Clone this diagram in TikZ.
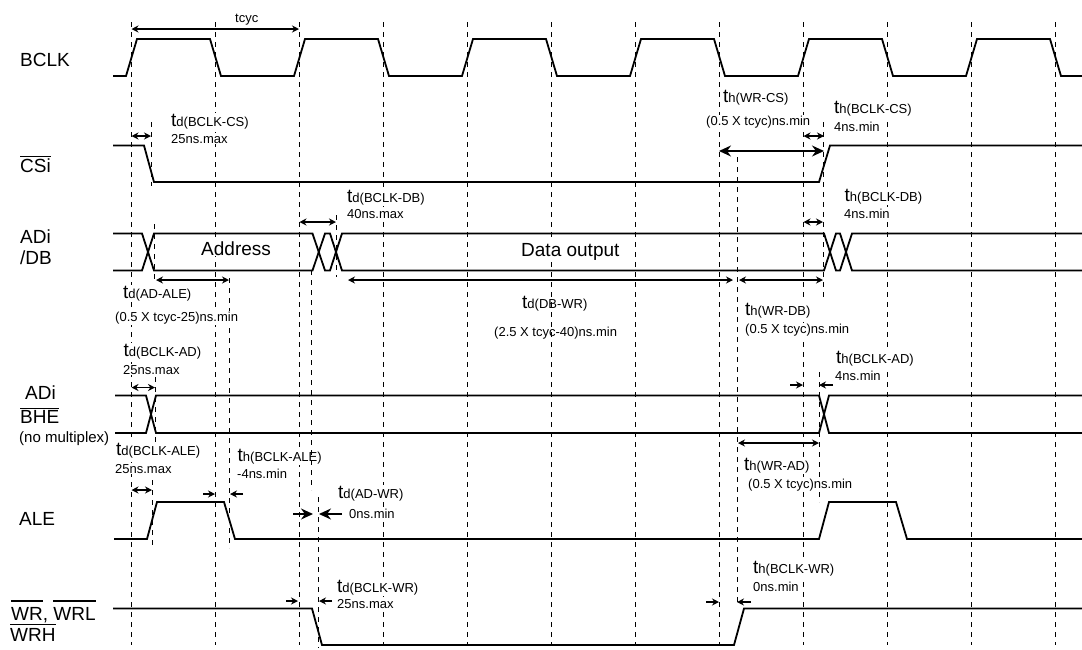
\documentclass[tikz,border=0pt]{standalone}
\usepackage{fontspec}
\setmainfont{Liberation Sans}
\usetikzlibrary{arrows.meta}
\newcommand{\tsub}[1]{{\fontsize{19}{19}\selectfont t}#1}
\newcommand{\barred}[2]{\setbox0=\hbox{#2}\rlap{\rule[#1pt]{\wd0}{1.3pt}}\box0}

\begin{document}
\begin{tikzpicture}[
    x=1pt, y=-1pt,
    guide/.style={draw=black, line width=1.2pt, dash pattern=on 5pt off 5pt},
    sig/.style={draw=black, line width=1.8pt, line join=miter},
    timing/.style={draw=black, line width=1.8pt, {Stealth[length=7pt,width=7pt]}-{Stealth[length=7pt,width=7pt]}},
    inward/.style={draw=black, line width=1.8pt, -{Stealth[length=7pt,width=7pt]}},
    bigtiming/.style={draw=black, line width=1.4pt, {Stealth[length=12pt,width=11pt]}-{Stealth[length=12pt,width=11pt]}},
    biginward/.style={draw=black, line width=1.4pt, -{Stealth[length=12pt,width=11pt]}},
    signame/.style={anchor=base west, inner sep=0pt, font=\fontsize{19}{21}\selectfont},
    word/.style={anchor=base west, inner sep=1pt, fill=white, font=\fontsize{19}{21}\selectfont},
    lbl/.style={anchor=base west, inner sep=1pt, fill=white, font=\fontsize{13}{15}\selectfont},
    plainlbl/.style={anchor=base west, inner sep=0pt, font=\fontsize{13}{15}\selectfont},
]
\useasboundingbox (0,0) rectangle (1082,649);

% === CLOCK GUIDES ===
\draw[guide] (131.5,22) -- (131.5,645);
\draw[guide] (215.5,22) -- (215.5,645);
\draw[guide] (299.5,22) -- (299.5,645);
\draw[guide] (383.5,22) -- (383.5,645);
\draw[guide] (467.5,22) -- (467.5,645);
\draw[guide] (551.5,22) -- (551.5,645);
\draw[guide] (635.5,22) -- (635.5,645);
\draw[guide] (719.5,22) -- (719.5,645);
\draw[guide] (803.5,22) -- (803.5,645);
\draw[guide] (887.5,22) -- (887.5,645);
\draw[guide] (971.5,22) -- (971.5,645);
\draw[guide] (1055.5,22) -- (1055.5,645);

% === SHORT GUIDES ===
\draw[guide] (151.5,122) -- (151.5,186);
\draw[guide] (154.5,224) -- (154.5,283);
\draw[guide] (155.5,377) -- (155.5,442);
\draw[guide] (152.5,480) -- (152.5,545);
\draw[guide] (229.5,278) -- (229.5,548);
\draw[guide] (336.5,215) -- (336.5,277);
\draw[guide] (318.5,497) -- (318.5,648);
\draw[guide] (737.5,157) -- (737.5,605);
\draw[guide] (823.5,122) -- (823.5,297);
\draw[guide] (819.5,372) -- (819.5,502);

% === SIGNAL NAMES ===
\node[signame] (bclk) at (20,66) {BCLK};
\node[signame] (csi) at (20,172) {\barred{15}{CSi}};
\node[signame] (adi) at (20,243) {ADi};
\node[signame] (db) at (20,264) {/DB};
\node[signame] (adi2) at (25,399) {ADi};
\node[signame] (bhe) at (20,423) {\barred{14}{BHE}};
\node[plainlbl, font=\fontsize{15}{17}\selectfont] (nomux) at (19,442) {(no multiplex)};
\node[signame] (ale) at (19,525) {ALE};
\node[signame] (wr) at (11,620) {\barred{18.5}{WR}, \barred{18.5}{WRL}};
\node[signame] (wrh) at (10,641) {\barred{16}{WRH}};

% === BUS CONTENTS ===
\node[word] (address) at (200,255) {Address};
\node[word] (dataout) at (520,256) {Data output};

% === LABELS ===
\node[plainlbl] (tcyc) at (235,22) {tcyc};
\node[lbl] (dcs) at (170,126) {\tsub{d(BCLK-CS)}};
\node[lbl] (dcsv) at (170,143) {25ns.max};
\node[lbl] (dale) at (122,298) {\tsub{d(AD-ALE)}};
\node[lbl] (dalev) at (114,321) {(0.5 X tcyc-25)ns.min};
\node[lbl] (dad) at (122.5,356) {\tsub{d(BCLK-AD)}};
\node[lbl] (dadv) at (122,374) {25ns.max};
\node[lbl] (dbale) at (115,455) {\tsub{d(BCLK-ALE)}};
\node[lbl] (dbalev) at (114,473) {25ns.max};
\node[lbl] (hbale) at (236.5,461) {\tsub{h(BCLK-ALE)}};
\node[lbl] (hbalev) at (236,478) {-4ns.min};
\node[lbl] (dwr) at (337,498) {\tsub{d(AD-WR)}};
\node[lbl] (dwrv) at (348,518) {0ns.min};
\node[lbl] (dbwr) at (336,592) {\tsub{d(BCLK-WR)}};
\node[lbl] (dbwrv) at (336,608) {25ns.max};
\node[lbl] (ddb) at (346,202) {\tsub{d(BCLK-DB)}};
\node[lbl] (ddbv) at (346,218) {40ns.max};
\node[plainlbl] (ddw) at (522,308) {\tsub{d(DB-WR)}};
\node[plainlbl] (ddwv) at (494,336) {(2.5 X tcyc-40)ns.min};
\node[lbl] (hcs) at (722,102) {\tsub{h(WR-CS)}};
\node[lbl] (hcsv) at (705,125) {(0.5 X tcyc)ns.min};
\node[lbl] (hbcs) at (833,113) {\tsub{h(BCLK-CS)}};
\node[lbl] (hbcsv) at (833,131) {4ns.min};
\node[lbl] (hbdb) at (843.5,201) {\tsub{h(BCLK-DB)}};
\node[lbl] (hbdbv) at (843,218) {4ns.min};
\node[lbl] (hdb) at (744,315) {\tsub{h(WR-DB)}};
\node[lbl] (hdbv) at (744,333) {(0.5 X tcyc)ns.min};
\node[lbl] (hbad) at (835,363) {\tsub{h(BCLK-AD)}};
\node[lbl] (hbadv) at (834,380) {4ns.min};
\node[lbl] (had) at (743,470) {\tsub{h(WR-AD)}};
\node[lbl] (hadv) at (747,488) {(0.5 X tcyc)ns.min};
\node[lbl] (hbwr) at (752,573) {\tsub{h(BCLK-WR)}};
\node[lbl] (hbwrv) at (752,591) {0ns.min};

\draw[guide] (311.5,270) -- (311.5,490);

% === SIGNALS ===
\draw[sig] (113,76) -- (126,76) -- (137,39) -- (210,39) -- (221,76) -- (294,76) -- (305,39) -- (378,39) -- (389,76) -- (462,76) -- (473,39) -- (546,39) -- (557,76) -- (630,76) -- (641,39) -- (714,39) -- (725,76) -- (798,76) -- (809,39) -- (882,39) -- (893,76) -- (966,76) -- (977,39) -- (1050,39) -- (1061,76) -- (1082,76);
\draw[sig] (113,145.5) -- (144,145.5) -- (154,182) -- (819,182) -- (830,145.5) -- (1082,145.5);
\draw[sig] (113,233.5) -- (142,233.5) -- (154,270.5) -- (312.5,270.5) -- (325,233.5) -- (330,233.5) -- (342,270.5) -- (824,270.5) -- (836,233.5) -- (840,233.5) -- (852,270.5) -- (1082,270.5);
\draw[sig] (113,270.5) -- (142,270.5) -- (154,233.5) -- (312.5,233.5) -- (325,270.5) -- (330,270.5) -- (342,233.5) -- (824,233.5) -- (836,270.5) -- (840,270.5) -- (852,233.5) -- (1082,233.5);
\draw[sig] (115,395.5) -- (146,395.5) -- (156,433) -- (819,433) -- (829,395.5) -- (1082,395.5);
\draw[sig] (115,433) -- (146,433) -- (156,395.5) -- (819,395.5) -- (829,433) -- (1082,433);
\draw[sig] (114,539) -- (147,539) -- (157,502) -- (224,502) -- (235,539) -- (819,539) -- (829,502) -- (896,502) -- (907,539) -- (1082,539);
\draw[sig] (113,608.5) -- (312,608.5) -- (322,645) -- (734,645) -- (744,608.5) -- (1082,608.5);

% === TIMING ARROWS ===
\draw[timing] (131.5,29) -- (299,29);
\draw[timing] (131.5,136) -- (151,136);
\draw[timing] (156,280) -- (229,280);
\draw[timing] (299.5,222) -- (336,222);
\draw[timing] (348,280) -- (733,280);
\draw[timing] (739,280) -- (823,280);
\draw[timing] (803.5,136) -- (824,136);
\draw[timing] (803.5,222) -- (823,222);
\draw[timing] (131.5,387.5) -- (155,387.5);
\draw[timing] (738,443) -- (819,443);
\draw[timing] (131.5,490) -- (152,490);
\draw[bigtiming] (719,151) -- (824,151);
\draw[inward] (203,494) -- (215,494);
\draw[inward] (243,494) -- (230,494);
\draw[biginward] (293,514) -- (313,514);
\draw[biginward] (342,514) -- (319,514);
\draw[inward] (286,601) -- (298,601);
\draw[inward] (332,601) -- (319,601);
\draw[inward] (790,385) -- (803,385);
\draw[inward] (833,385) -- (819,385);
\draw[inward] (706,602) -- (719,602);
\draw[inward] (751,602) -- (737,602);

\end{tikzpicture}
\end{document}
